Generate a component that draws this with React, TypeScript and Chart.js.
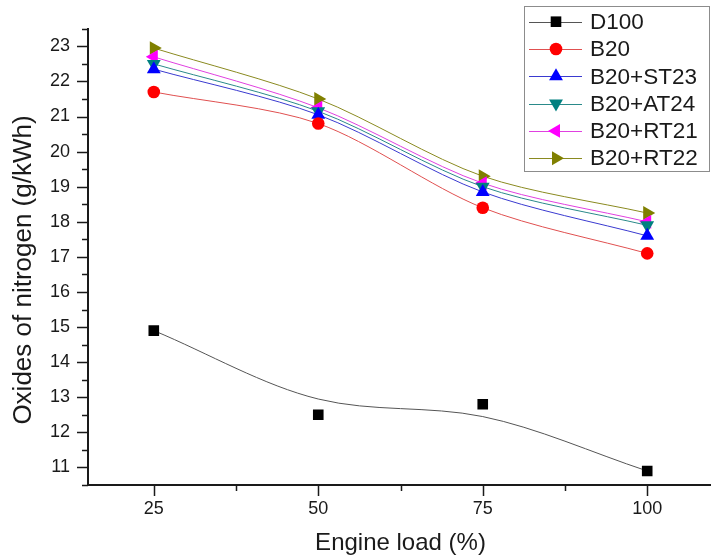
import React, { useEffect, useRef } from 'react';
import { Chart, registerables } from 'chart.js';

Chart.register(...registerables);

// ---- data ----
const loads = [25, 50, 75, 100];
const seriesNames = ['D100', 'B20', 'B20+ST23', 'B20+AT24', 'B20+RT21', 'B20+RT22'];
const d100 = [14.9, 12.5, 12.8, 10.9];
const d100Curve = [14.9, 12.95, 12.45, 10.9];
const b20 = [21.7, 20.8, 18.4, 17.1];
const b20st23 = [22.35, 21.05, 18.85, 17.6];
const b20at24 = [22.5, 21.15, 19.0, 17.9];
const b20rt21 = [22.7, 21.25, 19.1, 18.0];
const b20rt22 = [22.95, 21.5, 19.3, 18.25];
const xMajorTicks = [25, 50, 75, 100];
const xMinorTicks = [37.5, 62.5, 87.5];
const yMajorTicks = [11, 12, 13, 14, 15, 16, 17, 18, 19, 20, 21, 22, 23];
const yMinorTicks = [10.5, 11.5, 12.5, 13.5, 14.5, 15.5, 16.5, 17.5, 18.5, 19.5, 20.5, 21.5, 22.5, 23.5];
const xTitle = 'Engine load (%)';
const yTitle = 'Oxides of nitrogen (g/kWh)';

// ---- styles ----
const FONT = "'Liberation Sans', Arial, Helvetica, sans-serif";
const markerColors = ['#000000', '#ff0000', '#0000ff', '#008080', '#ff00ff', '#808000'];
const lineColors = ['#555555', '#e05050', '#3a3ad0', '#2a8a8a', '#e040e0', '#8a8a20'];
const pointStyles = ['rect', 'circle', 'triangle', 'triangle', 'triangle', 'triangle'];
const pointRotations = [0, 0, 0, 180, -90, 90];
const pointRadii = [7.5, 6.3, 8, 8, 8, 8];

const toXY = (vals: number[]) => loads.map((x, i) => ({ x, y: vals[i] }));

function drawMarker(ctx: CanvasRenderingContext2D, style: string, rot: number, r: number, x: number, y: number) {
  ctx.beginPath();
  if (style === 'rect') {
    const s = Math.SQRT1_2 * r;
    ctx.rect(x - s, y - s, 2 * s, 2 * s);
  } else if (style === 'circle') {
    ctx.arc(x, y, r, 0, Math.PI * 2);
  } else {
    let rad = (rot * Math.PI) / 180;
    ctx.moveTo(x + Math.sin(rad) * r, y - Math.cos(rad) * r);
    rad += (2 * Math.PI) / 3;
    ctx.lineTo(x + Math.sin(rad) * r, y - Math.cos(rad) * r);
    rad += (2 * Math.PI) / 3;
    ctx.lineTo(x + Math.sin(rad) * r, y - Math.cos(rad) * r);
    ctx.closePath();
  }
  ctx.fill();
}

const tickMarksPlugin = {
  id: 'tickMarks',
  afterDraw(chart: any) {
    const ctx = chart.ctx as CanvasRenderingContext2D;
    const xs = chart.scales.x;
    const ys = chart.scales.y;
    const { left, bottom } = chart.chartArea;
    ctx.save();
    ctx.strokeStyle = '#1a1a1a';
    ctx.lineWidth = 1.5;
    ctx.beginPath();
    xMajorTicks.forEach((v) => {
      const p = Math.round(xs.getPixelForValue(v)) + 0.5;
      ctx.moveTo(p, bottom);
      ctx.lineTo(p, bottom + 11);
    });
    xMinorTicks.forEach((v) => {
      const p = Math.round(xs.getPixelForValue(v)) + 0.5;
      ctx.moveTo(p, bottom);
      ctx.lineTo(p, bottom + 6);
    });
    yMajorTicks.forEach((v) => {
      const p = Math.round(ys.getPixelForValue(v)) + 0.5;
      ctx.moveTo(left, p);
      ctx.lineTo(left - 11, p);
    });
    yMinorTicks.forEach((v) => {
      const p = Math.round(ys.getPixelForValue(v)) + 0.5;
      ctx.moveTo(left, p);
      ctx.lineTo(left - 6, p);
    });
    ctx.stroke();

    // y-axis title
    ctx.fillStyle = '#1a1a1a';
    ctx.font = `26px ${FONT}`;
    ctx.textAlign = 'center';
    ctx.textBaseline = 'middle';
    ctx.translate(24, 270);
    ctx.rotate(-Math.PI / 2);
    ctx.fillText(yTitle, 0, 0);
    ctx.restore();
  },
};

const boxLegendPlugin = {
  id: 'boxLegend',
  afterDraw(chart: any) {
    const ctx = chart.ctx as CanvasRenderingContext2D;
    ctx.save();
    ctx.fillStyle = '#ffffff';
    ctx.fillRect(524, 6, 185, 166);
    ctx.strokeStyle = '#8c8c8c';
    ctx.lineWidth = 1;
    ctx.strokeRect(524.5, 6.5, 185, 165);
    ctx.font = `22.5px ${FONT}`;
    ctx.textAlign = 'left';
    ctx.textBaseline = 'middle';
    seriesNames.forEach((name, i) => {
      const y = 21.7 + i * 27.3;
      ctx.strokeStyle = lineColors[i];
      ctx.lineWidth = 1;
      ctx.beginPath();
      ctx.moveTo(529, Math.round(y) + 0.5);
      ctx.lineTo(582, Math.round(y) + 0.5);
      ctx.stroke();
      ctx.fillStyle = markerColors[i];
      drawMarker(ctx, pointStyles[i], pointRotations[i], pointRadii[i], 556, y);
      ctx.fillStyle = '#1a1a1a';
      ctx.fillText(name, 590, y + 1);
    });
    ctx.restore();
  },
};

export default function App() {
  const ref = useRef<HTMLCanvasElement | null>(null);

  useEffect(() => {
    if (!ref.current) return;
    const seriesData = [d100, b20, b20st23, b20at24, b20rt21, b20rt22];
    const datasets: any[] = [];
    seriesData.forEach((vals, i) => {
      datasets.push({
        label: seriesNames[i],
        data: toXY(vals),
        showLine: i !== 0,
        borderColor: lineColors[i],
        borderWidth: 1,
        backgroundColor: markerColors[i],
        pointBackgroundColor: markerColors[i],
        pointBorderColor: markerColors[i],
        pointBorderWidth: 0,
        pointStyle: pointStyles[i],
        pointRotation: pointRotations[i],
        pointRadius: pointRadii[i],
        tension: 0.3,
        fill: false,
      });
    });
    datasets.push({
      label: 'D100 curve',
      data: toXY(d100Curve),
      showLine: true,
      borderColor: lineColors[0],
      borderWidth: 1,
      pointRadius: 0,
      cubicInterpolationMode: 'monotone',
      fill: false,
    });

    const chart = new Chart(ref.current, {
      type: 'scatter',
      data: { datasets },
      options: {
        animation: false,
        responsive: false,
        devicePixelRatio: 1,
        layout: { padding: { top: 23, right: 0, left: 0, bottom: 0 } },
        plugins: { legend: { display: false }, tooltip: { enabled: false } },
        scales: {
          x: {
            type: 'linear',
            min: 15,
            max: 110,
            afterBuildTicks: (s: any) => {
              s.ticks = xMajorTicks.map((v) => ({ value: v }));
            },
            afterFit: (s: any) => {
              s.height = 73;
            },
            grid: { display: false, drawTicks: false },
            border: { display: true, color: '#1a1a1a', width: 2 },
            ticks: {
              padding: 13,
              maxRotation: 0,
              autoSkip: false,
              color: '#1a1a1a',
              font: { size: 18, family: FONT },
              callback: (v: any) => String(v),
            },
            title: {
              display: true,
              text: xTitle,
              color: '#1a1a1a',
              font: { size: 24, family: FONT },
              padding: { top: 0, bottom: 0 },
            },
          },
          y: {
            type: 'linear',
            min: 10.5,
            max: 23.5,
            afterBuildTicks: (s: any) => {
              s.ticks = yMajorTicks.map((v) => ({ value: v }));
            },
            afterFit: (s: any) => {
              s.width = 88;
            },
            grid: { display: false, drawTicks: false },
            border: { display: true, color: '#1a1a1a', width: 2 },
            ticks: {
              padding: 18,
              autoSkip: false,
              color: '#1a1a1a',
              font: { size: 18, family: FONT },
              callback: (v: any) => String(v),
            },
          },
        },
      },
      plugins: [tickMarksPlugin, boxLegendPlugin],
    } as any);
    return () => chart.destroy();
  }, []);

  return (
    <div
      style={{
        position: 'fixed',
        left: 0,
        top: 0,
        width: 711,
        height: 558,
        overflow: 'hidden',
        background: '#ffffff',
      }}
    >
      <canvas ref={ref} width={721} height={558} style={{ display: 'block', width: 721, height: 558 }} />
    </div>
  );
}
